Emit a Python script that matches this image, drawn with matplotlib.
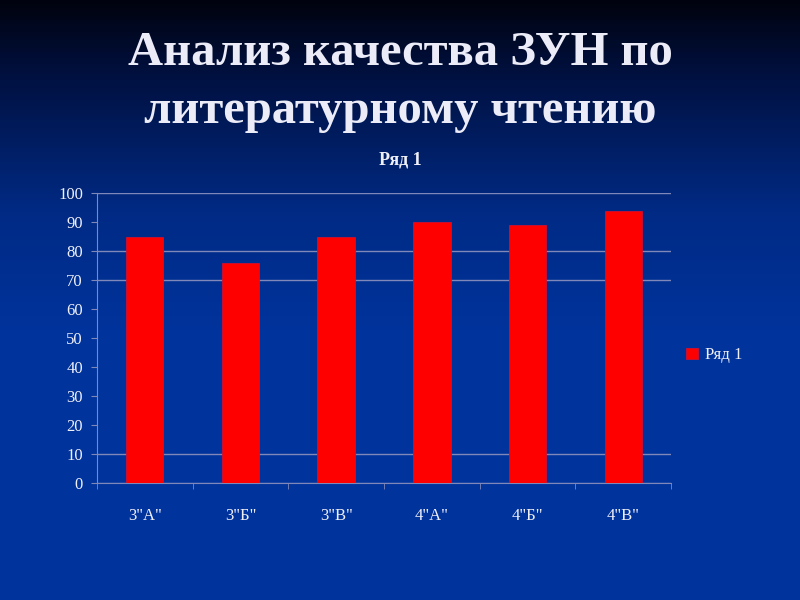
import numpy as np
import matplotlib.pyplot as plt
from matplotlib.colors import LinearSegmentedColormap

# data
classes = ['3"А"', '3"Б"', '3"В"', '4"А"', '4"Б"', '4"В"']
quality = [85, 76, 85, 90, 89, 94]
series_name = 'Ряд 1'
y_ticks = [0, 10, 20, 30, 40, 50, 60, 70, 80, 90, 100]
grid_levels = [0, 10, 70, 80, 100]

plt.rcParams['font.family'] = ['Liberation Serif', 'DejaVu Serif']

fig = plt.figure(figsize=(8, 6), dpi=100)

# slide background gradient
bg = fig.add_axes([0, 0, 1, 1], zorder=-10)
cmap = LinearSegmentedColormap.from_list('slide', [(0.0, '#00030f'), (0.12, '#00103f'),
                                                   (0.35, '#002a84'), (0.55, '#00339c'),
                                                   (1.0, '#00339c')])
grad = np.linspace(0, 1, 300).reshape(-1, 1)
bg.imshow(grad, aspect='auto', cmap=cmap, extent=[0, 1, 0, 1])
bg.axis('off')

fig.text(0.5, 0.912, 'Анализ качества ЗУН по', ha='center', va='center',
         fontsize=35, fontweight='bold', color='#ececf8')
fig.text(0.5, 0.815, 'литературному чтению', ha='center', va='center',
         fontsize=35, fontweight='bold', color='#ececf8')
fig.text(0.5, 0.733, series_name, ha='center', va='center',
         fontsize=13, fontweight='bold', color='#f0f0f8')

ax = fig.add_axes([0.121, 0.195, 0.718, 0.483])
ax.set_facecolor('none')
x = np.arange(len(classes))
ax.bar(x, quality, width=0.39, color='#ff0000', edgecolor='#d01030',
       linewidth=0.6, label=series_name, zorder=3)

for g in grid_levels:
    ax.axhline(g, color='#7f88b8', linewidth=1.0, zorder=1)

ax.set_xlim(-0.5, len(classes) - 0.5)
ax.set_ylim(0, 100)
ax.set_yticks(y_ticks)
ax.set_xticks(x)
ax.set_xticklabels(classes)
ax.set_xticks(np.arange(len(classes) + 1) - 0.5, minor=True)
ax.tick_params(axis='x', which='major', length=0, pad=18, labelsize=12, colors='#f0f0f8')
ax.tick_params(axis='x', which='minor', length=4, color='#7f88b8')
ax.tick_params(axis='y', length=4, color='#7f88b8', labelsize=12, labelcolor='#f0f0f8', pad=6)

for s in ['top', 'right']:
    ax.spines[s].set_visible(False)
for s in ['left', 'bottom']:
    ax.spines[s].set_color('#7f88b8')

leg = ax.legend(loc='center left', bbox_to_anchor=(1.0, 0.44), frameon=False,
                fontsize=12, handlelength=0.7, handleheight=0.7, handletextpad=0.4)
for t in leg.get_texts():
    t.set_color('#f0f0f8')

fig.savefig('out.png', dpi=100)
